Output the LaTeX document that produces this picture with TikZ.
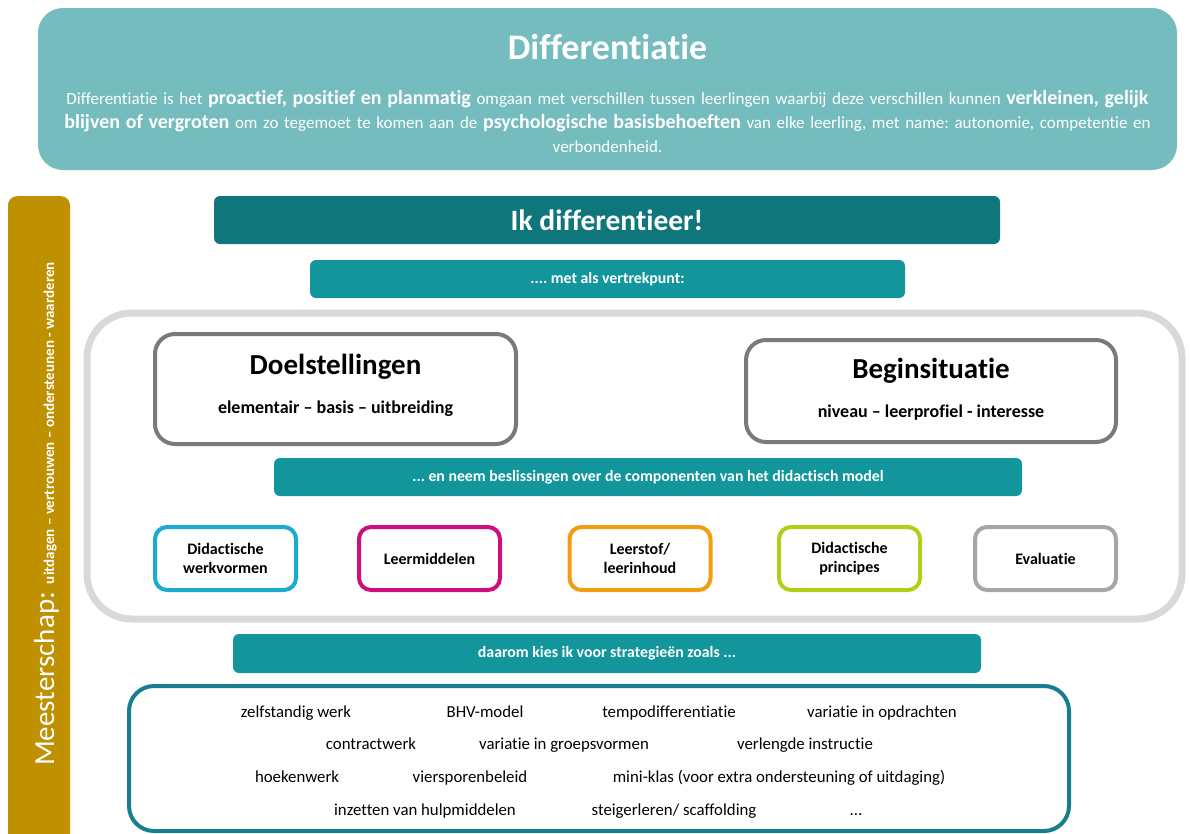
\documentclass[tikz,border=0pt]{standalone}
\usepackage{fontspec}
\setmainfont{Carlito}[Ligatures={NoCommon}]
\frenchspacing
\definecolor{topteal}{HTML}{75BCBE}
\definecolor{darkteal}{HTML}{0F777B}
\definecolor{midteal}{HTML}{12969C}
\definecolor{gold}{HTML}{BF9000}
\definecolor{framegray}{HTML}{D9D9D9}
\definecolor{boxgray}{HTML}{7A7A7A}
\definecolor{cyanc}{HTML}{1AACD0}
\definecolor{magc}{HTML}{CC0E7E}
\definecolor{orac}{HTML}{F39C12}
\definecolor{limec}{HTML}{B5CC18}
\definecolor{evalgray}{HTML}{A6A6A6}
\definecolor{stratc}{HTML}{177E90}
\newcommand{\fs}[1]{\fontsize{#1}{#1}\selectfont}
\tikzset{
  tealbar/.style={fill=midteal, rounded corners=6pt, text=white, font=\bfseries\fs{15.8}, inner sep=0pt},
  bigbox/.style={draw=boxgray, line width=4pt, rounded corners=20pt, fill=white, inner sep=0pt},
  compbox/.style={line width=4pt, rounded corners=12pt, fill=white, minimum width=141pt, minimum height=63pt, inner sep=0pt, align=center, font=\bfseries\fs{16}, text=black},
  strat/.style={font=\fs{16.8}, text=black, inner sep=0pt, anchor=base},
  boxtitle/.style={font=\bfseries\fs{29}, inner sep=0pt},
  boxsub/.style={font=\bfseries\fs{18}, inner sep=0pt},
}
\begin{document}
\begin{tikzpicture}[x=1pt,y=-1pt]
\useasboundingbox (0,0) rectangle (1190,833);
% top box
\node[fill=topteal, rounded corners=25pt, minimum width=1139pt, minimum height=162pt, inner sep=0pt] (top) at (607.5,89) {};
\node[text=white, font=\bfseries\fs{36}, inner sep=0pt] (title) at (607.5,47) {Differentiatie};
\node[text=white, font={\fontsize{17}{24}\selectfont}, align=center, inner sep=0pt, text width=1140pt] (def) at (607.5,122)
{Differentiatie is het {\bfseries\fontsize{20}{24}\selectfont proactief, positief en planmatig} omgaan met verschillen tussen leerlingen waarbij deze verschillen kunnen {\bfseries\fontsize{20}{24}\selectfont verkleinen, gelijk}\\
{\bfseries\fontsize{20}{24}\selectfont blijven of vergroten} om zo tegemoet te komen aan de {\bfseries\fontsize{20}{24}\selectfont psychologische basisbehoeften} van elke leerling, met name: autonomie, competentie en\\
verbondenheid.};
% left bar
\node[fill=gold, rounded corners=9pt, minimum width=62pt, minimum height=660pt, inner sep=0pt, anchor=north] (bar) at (39,196) {};
\node[rotate=90, anchor=base, text=white, inner sep=0pt] (meester) at (54,514)
{{\fs{29}Meesterschap:}\hspace{8pt}{\bfseries\fs{15}uitdagen -- vertrouwen -- ondersteunen - waarderen}};
% ik differentieer
\node[fill=darkteal, rounded corners=6pt, minimum width=786pt, minimum height=48pt, inner sep=0pt, text=white, font=\bfseries\fs{29.5}] (ik) at (607,220) {Ik differentieer!};
\node[tealbar, minimum width=595pt, minimum height=38pt] (vertrek) at (607.5,279) {.... met als vertrekpunt:};
% frame
\node[draw=framegray, line width=7pt, rounded corners=45pt, minimum width=1095pt, minimum height=306pt, inner sep=0pt] (frame) at (634.5,466) {};
% doel and begin
\node[bigbox, minimum width=361pt, minimum height=110pt] (doel) at (335.5,389) {};
\node[boxtitle] (doelt) at (335.5,367) {Doelstellingen};
\node[boxsub] (doels) at (335.5,409) {elementair -- basis -- uitbreiding};
\node[bigbox, minimum width=370pt, minimum height=102pt] (begin) at (931,391) {};
\node[boxtitle] (begint) at (931,371) {Beginsituatie};
\node[boxsub] (begins) at (931,413) {niveau -- leerprofiel - interesse};
% beslissingen
\node[tealbar, minimum width=748pt, minimum height=38pt] (beslis) at (648,477) {... en neem beslissingen over de componenten van het didactisch model};
% components
\node[compbox, draw=cyanc] (werk) at (225.5,558.5) {Didactische\\[3pt]werkvormen};
\node[compbox, draw=magc] (middel) at (429.5,558.5) {Leermiddelen};
\node[compbox, draw=orac] (stof) at (640,558.5) {Leerstof/\\[3pt]leerinhoud};
\node[compbox, draw=limec] (princ) at (849.5,558.5) {Didactische\\[3pt]principes};
\node[compbox, draw=evalgray] (eval) at (1045.5,558.5) {Evaluatie};
% daarom
\node[tealbar, minimum width=748pt, minimum height=39pt] (daarom) at (607,653.5) {daarom kies ik voor strategieën zoals ...};
% strategies
\node[draw=stratc, line width=4pt, rounded corners=25pt, minimum width=940pt, minimum height=145pt, inner sep=0pt] (stratbox) at (599,758.5) {};
\node[strat] (s1) at (296,717) {zelfstandig werk};
\node[strat] (s2) at (485,717) {BHV-model};
\node[strat] (s3) at (669,717) {tempodifferentiatie};
\node[strat] (s4) at (882,717) {variatie in opdrachten};
\node[strat] (s5) at (371,749) {contractwerk};
\node[strat] (s6) at (564,749) {variatie in groepsvormen};
\node[strat] (s7) at (805,749) {verlengde instructie};
\node[strat] (s8) at (297,782) {hoekenwerk};
\node[strat] (s9) at (470,782) {viersporenbeleid};
\node[strat] (s10) at (779,782) {mini-klas (voor extra ondersteuning of uitdaging)};
\node[strat] (s11) at (425,815) {inzetten van hulpmiddelen};
\node[strat] (s12) at (674,815) {steigerleren/ scaffolding};
\node[strat] (s13) at (856,815) {...};
\end{tikzpicture}
\end{document}
